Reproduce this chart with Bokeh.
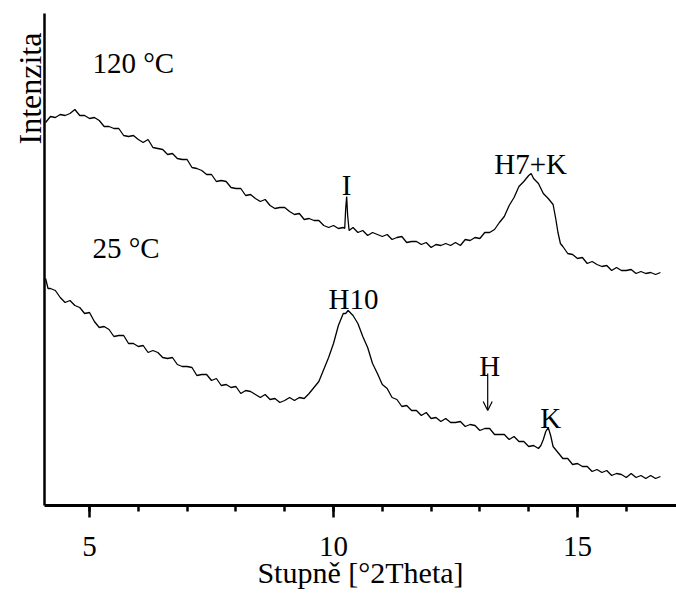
import math
from bokeh.plotting import figure
from bokeh.models import ColumnDataSource, FixedTicker, Arrow, OpenHead
from bokeh.core.properties import value
from bokeh.embed import file_html
from bokeh.resources import INLINE

# ---- data: 120 °C pattern ----
x_120 = [4.1, 4.2, 4.3, 4.4, 4.5, 4.6, 4.7, 4.8, 4.9, 5.0,
         5.1, 5.2, 5.3, 5.4, 5.5, 5.6, 5.7, 5.8, 5.9, 6.0,
         6.1, 6.2, 6.3, 6.4, 6.5, 6.6, 6.7, 6.8, 6.9, 7.0,
         7.1, 7.2, 7.3, 7.4, 7.5, 7.6, 7.7, 7.8, 7.9, 8.0,
         8.1, 8.2, 8.3, 8.4, 8.5, 8.6, 8.7, 8.8, 8.9, 9.0,
         9.1, 9.2, 9.3, 9.4, 9.5, 9.6, 9.7, 9.8, 9.9, 10.0,
         10.1, 10.2, 10.23, 10.25, 10.27, 10.29, 10.32, 10.4, 10.5, 10.6,
         10.7, 10.8, 10.9, 11.0, 11.1, 11.2, 11.3, 11.4, 11.5, 11.6,
         11.7, 11.8, 11.9, 12.0, 12.1, 12.2, 12.3, 12.4, 12.5, 12.6,
         12.7, 12.8, 12.9, 13.0, 13.1, 13.2, 13.3, 13.4, 13.5, 13.6,
         13.7, 13.8, 13.9, 14.0, 14.05, 14.1, 14.2, 14.3, 14.4, 14.5,
         14.55, 14.6, 14.65, 14.7, 14.8, 14.9, 15.0, 15.1, 15.2, 15.3,
         15.4, 15.5, 15.6, 15.7, 15.8, 15.9, 16.0, 16.1, 16.2, 16.3,
         16.4, 16.5, 16.6, 16.7]
y_120 = [383, 389, 388, 391, 390, 392, 396, 390, 390, 387,
         388, 385, 379, 379, 377, 377, 370, 369, 370, 366,
         363, 366, 358, 357, 356, 351, 352, 347, 346, 346,
         338, 337, 335, 331, 331, 324, 325, 324, 318, 317,
         317, 310, 311, 307, 304, 306, 300, 297, 298, 298,
         294, 291, 292, 286, 287, 285, 285, 280, 278, 280,
         277, 278, 277, 297, 309, 290, 275, 278, 273, 275,
         270, 273, 271, 269, 271, 266, 268, 269, 263, 264,
         264, 261, 263, 258, 261, 260, 262, 260, 263, 260,
         266, 265, 268, 267, 273, 273, 276, 283, 289, 300,
         308, 319, 324, 330, 332, 327, 322, 312, 307, 301,
         288, 273, 262, 259, 252, 251, 247, 248, 242, 244,
         241, 239, 240, 235, 238, 235, 235, 236, 232, 234,
         232, 233, 231, 233]

# ---- data: 25 °C pattern ----
x_25 = [4.1, 4.15, 4.2, 4.3, 4.4, 4.5, 4.6, 4.7, 4.8, 4.9, 5.0,
        5.1, 5.2, 5.3, 5.4, 5.5, 5.6, 5.7, 5.8, 5.9, 6.0,
        6.1, 6.2, 6.3, 6.4, 6.5, 6.6, 6.7, 6.8, 6.9, 7.0,
        7.1, 7.2, 7.3, 7.4, 7.5, 7.6, 7.7, 7.8, 7.9, 8.0,
        8.1, 8.2, 8.3, 8.4, 8.5, 8.6, 8.7, 8.8, 8.9, 9.0,
        9.1, 9.2, 9.3, 9.4, 9.5, 9.6, 9.7, 9.8, 9.9, 10.0,
        10.1, 10.2, 10.25, 10.3, 10.4, 10.5, 10.6, 10.7, 10.8, 10.9,
        11.0, 11.1, 11.2, 11.3, 11.4, 11.5, 11.6, 11.7, 11.8, 11.9,
        12.0, 12.1, 12.2, 12.3, 12.4, 12.5, 12.6, 12.7, 12.8, 12.9,
        13.0, 13.1, 13.2, 13.3, 13.4, 13.5, 13.6, 13.7, 13.8, 13.9,
        14.0, 14.1, 14.2, 14.25, 14.3, 14.35, 14.4, 14.45, 14.5, 14.6,
        14.7, 14.8, 14.9, 15.0, 15.1, 15.2, 15.3, 15.4, 15.5, 15.6,
        15.7, 15.8, 15.9, 16.0, 16.1, 16.2, 16.3, 16.4, 16.5, 16.6,
        16.7]
y_25 = [227, 217, 217, 215, 208, 203, 205, 200, 198, 192, 193,
        184, 178, 179, 176, 169, 170, 170, 162, 162, 159,
        160, 153, 155, 153, 148, 147, 148, 141, 139, 139,
        138, 130, 131, 131, 125, 127, 120, 121, 118, 119,
        112, 115, 114, 111, 108, 111, 106, 107, 103, 105,
        108, 105, 108, 107, 112, 118, 124, 136, 148, 162,
        180, 192, 192, 195, 190, 182, 169, 158, 142, 132,
        121, 117, 108, 106, 99, 100, 95, 95, 90, 93,
        87, 88, 84, 87, 83, 83, 84, 79, 81, 80,
        75, 77, 77, 71, 71, 71, 66, 69, 64, 64,
        59, 60, 57, 60, 66, 74, 78, 70, 59, 53,
        47, 47, 41, 42, 39, 39, 34, 36, 33, 35,
        30, 32, 31, 28, 32, 28, 30, 27, 30, 27,
        29]

# ---- axis ----
x_min, x_max = 4.08, 17.03
y_min, y_max = 0, 492
major_ticks = [5, 10, 15]
minor_ticks = [5, 6, 7, 8, 9, 10, 11, 12, 13, 14, 15, 16]
x_title = "Stupně [°2Theta]"
y_title = "Intenzita"

# ---- annotations ----
left_labels = ["120 °C", "25 °C"]
left_x = [5.06, 5.06]
left_y = [443, 258]
peak_labels = ["I", "H7+K", "H10", "H", "K"]
peak_x = [10.27, 14.04, 10.41, 13.20, 14.45]
peak_y = [321, 342, 207, 140, 88]
arrow_x = 13.16
arrow_y_start = 132
arrow_y_end = 95
ytitle_x, ytitle_y = 3.79, 417

FONT = "Liberation Serif"

p = figure(width=676, height=594, x_range=(3.176, 17.029), y_range=(-89, 505),
           output_backend="svg", toolbar_location=None, min_border=0)
p.outline_line_color = None
p.grid.visible = False
p.background_fill_color = "white"
p.border_fill_color = "white"

p.line(x_120, y_120, line_color="black", line_width=1.3)
p.line(x_25, y_25, line_color="black", line_width=1.3)

src_l = ColumnDataSource(dict(x=left_x, y=left_y, t=left_labels))
p.text(x="x", y="y", text="t", source=src_l, text_font=value(FONT),
       text_font_size="29px", text_align="left", text_baseline="alphabetic",
       text_color="black")
src_p = ColumnDataSource(dict(x=peak_x, y=peak_y, t=peak_labels))
p.text(x="x", y="y", text="t", source=src_p, text_font=value(FONT),
       text_font_size="29px", text_align="center", text_baseline="alphabetic",
       text_color="black")
src_y = ColumnDataSource(dict(x=[ytitle_x], y=[ytitle_y], t=[y_title]))
p.text(x="x", y="y", text="t", source=src_y, text_font=value(FONT),
       text_font_size="32px", text_align="center", text_baseline="alphabetic",
       angle=math.pi / 2, text_color="black")

p.add_layout(Arrow(end=OpenHead(size=9, line_width=1.2, line_color="black"),
                   x_start=arrow_x, y_start=arrow_y_start,
                   x_end=arrow_x, y_end=arrow_y_end,
                   line_width=1.2, line_color="black"))

xa = p.xaxis[0]
xa.fixed_location = 0
xa.bounds = (x_min, x_max)
xa.ticker = FixedTicker(ticks=major_ticks, minor_ticks=minor_ticks)
xa.axis_line_width = 3
xa.major_tick_line_width = 2.5
xa.minor_tick_line_width = 2.5
xa.major_tick_out = 12
xa.major_tick_in = 0
xa.minor_tick_out = 6
xa.minor_tick_in = 0
xa.major_label_text_font = FONT
xa.major_label_text_font_size = "29px"
xa.major_label_text_color = "black"
xa.major_label_standoff = 19
xa.axis_label = x_title
xa.axis_label_text_font = FONT
xa.axis_label_text_font_size = "30px"
xa.axis_label_text_font_style = "normal"
xa.axis_label_text_color = "black"
xa.axis_label_standoff = -3

ya = p.yaxis[0]
ya.fixed_location = x_min
ya.bounds = (y_min, y_max)
ya.ticker = FixedTicker(ticks=[])
ya.axis_line_width = 2.5
ya.major_tick_out = 0
ya.major_tick_in = 0
ya.minor_tick_out = 0
ya.minor_tick_in = 0

open("out.html", "w").write(file_html(p, INLINE))
